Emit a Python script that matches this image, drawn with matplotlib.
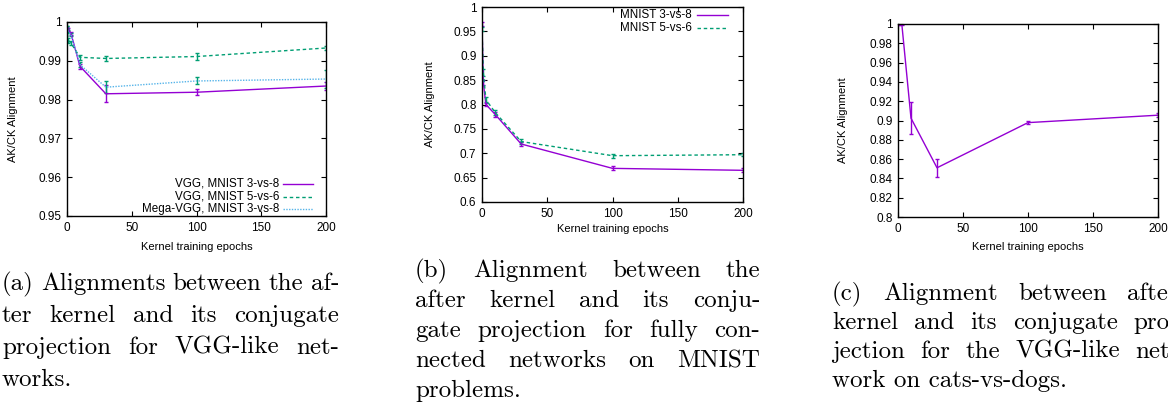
import matplotlib
matplotlib.use("Agg")
import matplotlib.pyplot as plt

# (a) VGG-like networks
epochs_a = [0, 1, 3, 10, 30, 100, 200]
vgg_38 = [0.9983, 0.9980, 0.9971, 0.9886, 0.9815, 0.9819, 0.9835]
vgg_38_err = [0.0004, 0.0004, 0.0004, 0.0006, 0.0022, 0.0008, 0.0010]
vgg_56 = [0.9985, 0.9953, 0.9946, 0.9909, 0.9906, 0.9911, 0.9933]
vgg_56_err = [0.0004, 0.0006, 0.0005, 0.0006, 0.0006, 0.0008, 0.0004]
mega_38 = [0.9985, 0.9975, 0.9968, 0.9890, 0.9832, 0.9848, 0.9853]
mega_38_err = [0.0004, 0.0004, 0.0004, 0.0006, 0.0016, 0.0009, 0.0024]

# (b) fully connected, MNIST
epochs_b = [0, 1, 3, 10, 30, 100, 200]
fc_38 = [0.965, 0.845, 0.800, 0.780, 0.719, 0.669, 0.665]
fc_38_err = [0.004, 0.006, 0.004, 0.005, 0.005, 0.004, 0.004]
fc_56 = [0.955, 0.866, 0.810, 0.784, 0.724, 0.695, 0.697]
fc_56_err = [0.004, 0.007, 0.005, 0.005, 0.005, 0.004, 0.003]

# (c) VGG-like, cats-vs-dogs
epochs_c = [0, 1, 3, 10, 30, 100, 200]
cats = [0.9995, 0.9996, 0.9990, 0.9024, 0.8510, 0.8978, 0.9055]
cats_err = [0.0005, 0.0004, 0.0005, 0.0165, 0.0095, 0.0012, 0.0018]

captions_a = ["(a) Alignments between the af-", "ter kernel and its conjugate",
              "projection for VGG-like net-", "works."]
captions_b = ["(b) Alignment between the", "after kernel and its conju-",
              "gate projection for fully con-", "nected networks on MNIST",
              "problems."]
captions_c = ["(c) Alignment between after", "kernel and its conjugate pro-",
              "jection for the VGG-like net-", "work on cats-vs-dogs."]

PURPLE = "#9400d3"
GREEN = "#009e73"
BLUE = "#56b4e9"

plt.rcParams['font.family'] = ['Liberation Sans', 'DejaVu Sans']

W, H = 1168, 408
fig = plt.figure(figsize=(W / 100, H / 100), dpi=100)


def px_axes(l, t, r, b):
    return fig.add_axes([l / W, 1 - b / H, (r - l) / W, (b - t) / H])


def style(ax, ylim, yticks, ylab_x, xlab_y):
    ax.set_xlim(0, 200)
    ax.set_ylim(*ylim)
    ax.set_xticks([0, 50, 100, 150, 200])
    ax.set_yticks(yticks)
    ax.set_yticklabels([f"{v:g}" for v in yticks])
    ax.tick_params(direction='in', top=True, right=True, length=3.5,
                   width=0.8, labelsize=8.5, pad=4)
    for s in ax.spines.values():
        s.set_linewidth(1.0)
    ax.set_ylabel("AK/CK Alignment", fontsize=8)
    ax.set_xlabel("Kernel training epochs", fontsize=8)
    ax.yaxis.label.set_va('center')
    ax.xaxis.label.set_va('center')
    ax.yaxis.set_label_coords(ylab_x, 0.5)
    ax.xaxis.set_label_coords(0.5, xlab_y)


def series(ax, x, y, e, color, ecolor=None, dashes=None):
    cont = ax.errorbar(x, y, yerr=e, color=color, ecolor=ecolor or color,
                       lw=1, elinewidth=1, capsize=1.6, capthick=1)
    if dashes:
        cont.lines[0].set_dashes(dashes)


def key(ax, xt, x0, x1, y, label, color, dashes=None):
    ax.text(xt, y, label, transform=ax.transAxes, ha='right', va='center',
            fontsize=8.4)
    ln, = ax.plot([x0, x1], [y, y], transform=ax.transAxes, color=color, lw=1)
    if dashes:
        ln.set_dashes(dashes)


# panel a
ax = px_axes(67, 22, 326, 216)
series(ax, epochs_a, vgg_38, vgg_38_err, PURPLE)
series(ax, epochs_a, vgg_56, vgg_56_err, GREEN, dashes=(2.5, 2))
series(ax, epochs_a, mega_38, mega_38_err, BLUE, ecolor=GREEN, dashes=(1, 1))
style(ax, (0.95, 1.0), [0.95, 0.96, 0.97, 0.98, 0.99, 1], -0.208, -0.16)
key(ax, 0.819, 0.834, 0.950, 0.165, "VGG, MNIST 3-vs-8", PURPLE)
key(ax, 0.819, 0.834, 0.950, 0.098, "VGG, MNIST 5-vs-6", GREEN, (2.5, 2))
key(ax, 0.819, 0.834, 0.950, 0.036, "Mega-VGG, MNIST 3-vs-8", BLUE, (1, 1))

# panel b
ax = px_axes(482, 7, 743, 202)
series(ax, epochs_b, fc_38, fc_38_err, PURPLE)
series(ax, epochs_b, fc_56, fc_56_err, GREEN, dashes=(2.5, 2))
style(ax, (0.6, 1.0), [0.6, 0.65, 0.7, 0.75, 0.8, 0.85, 0.9, 0.95, 1],
      -0.199, -0.138)
key(ax, 0.805, 0.824, 0.943, 0.959, "MNIST 3-vs-8", PURPLE)
key(ax, 0.805, 0.824, 0.943, 0.892, "MNIST 5-vs-6", GREEN, (2.5, 2))

# panel c
ax = px_axes(898, 24, 1158, 217)
series(ax, epochs_c, cats, cats_err, PURPLE)
style(ax, (0.8, 1.0), [0.8, 0.82, 0.84, 0.86, 0.88, 0.9, 0.92, 0.94, 0.96,
                       0.98, 1], -0.212, -0.155)


def caption(lines, left, right, base, step):
    # justified caption lines, last line flush left
    renderer = fig.canvas.get_renderer()
    for i, line in enumerate(lines):
        y = 1 - (base + i * step) / H
        kw = dict(fontfamily='cmr10', fontsize=18, va='baseline')
        if i == len(lines) - 1:
            fig.text(left / W, y, line, **kw)
            continue
        words = line.split(' ')
        texts = [fig.text(0, y, w, **kw) for w in words]
        widths = [t.get_window_extent(renderer).width for t in texts]
        gap = (right - left - sum(widths)) / (len(words) - 1)
        x = left
        for t, w in zip(texts, widths):
            t.set_x(x / W)
            x += w + gap


caption(captions_a, 2, 339, 290, 32)
caption(captions_b, 415, 760, 277, 30)
caption(captions_c, 832, 1178, 300, 29)

fig.savefig("out.png", dpi=100)
